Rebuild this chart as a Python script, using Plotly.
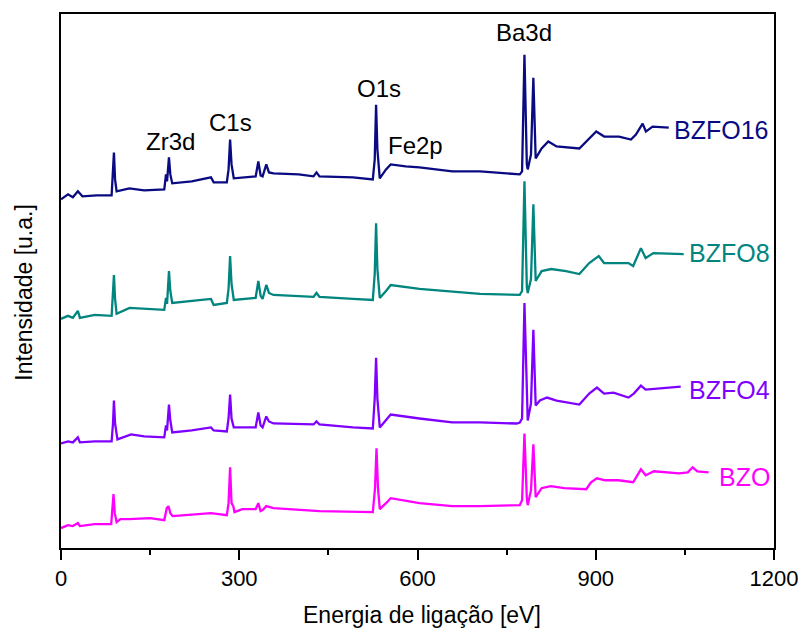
import plotly.graph_objects as go

# Binding energy (eV) and intensity (a.u., stacked offsets included)
bzfo16_e = [0, 11.7, 20, 28.4, 36, 60, 85.2, 87.5, 89.1, 91, 93.6, 115, 140, 173.8, 176.7, 178.5, 181.7, 184, 187.2,
            220, 252.4, 257, 279.1, 282, 284.6, 287, 290.8, 327.6, 332.1, 336, 339.3, 345.5, 350, 357.7, 400, 425,
            430, 435, 491.4, 524.8, 528, 530.3, 532.5, 536.5, 547, 554.9, 580, 603.3, 658.5, 705.3, 772.1, 776,
            780, 784, 785.5, 791, 795, 798.9, 808.9, 820.1, 834, 872.4, 884.1, 900.8, 914.2, 939.2, 959.3, 967.6,
            978.9, 984.4, 995.6, 1022.9]
bzfo16_i = [350, 355, 352, 358, 353, 354, 354, 380, 397, 370, 358, 361, 359, 360, 375, 368, 392, 375, 366,
            368, 372, 367, 367, 380, 410, 385, 371, 373, 388, 374, 373, 385, 377, 376, 375, 373,
            377, 373, 372, 370, 390, 445, 400, 371, 380, 385, 383, 382, 378, 378, 375, 378,
            495, 385, 380, 395, 472, 391, 401, 408, 403, 401, 408, 418, 413, 413, 410, 415,
            426, 418, 423, 422]

bzfo8_e = [0, 11.7, 20, 28.4, 31.8, 56.8, 85.2, 87.5, 89.1, 91, 93.6, 115.3, 140, 173.8, 176.7, 178.5, 181.7, 184,
           187.2, 220, 252.4, 257, 279.1, 282, 284.6, 287, 290.8, 327.6, 332.1, 336, 339.3, 345.5, 350, 357.7, 425,
           430, 435, 491.4, 524.8, 528, 530.3, 532.5, 536.5, 547, 554.9, 603.3, 650.1, 705.3, 772.1, 776, 780, 784,
           785.5, 791, 795, 798.9, 808.9, 825, 850, 872.4, 889, 905, 914, 955, 963, 976, 984, 997, 1048]
bzfo8_i = [230, 233, 231, 238, 231, 234, 233, 255, 274, 250, 235, 241, 240, 239, 251, 245, 278, 258,
           246, 248, 250, 244, 246, 260, 293, 265, 249, 251, 268, 253, 250, 264, 256, 254, 252,
           256, 252, 250, 249, 275, 326, 280, 251, 258, 264, 260, 258, 255, 254, 258, 368, 262,
           256, 270, 345, 268, 278, 280, 278, 275, 286, 293, 286, 286, 283, 301, 291, 296, 295]

bzfo4_e = [0, 11.7, 20, 28.4, 31.8, 56.8, 85.2, 87.5, 89.1, 91, 95, 118, 140, 173.8, 176.7, 178.5, 181.7, 184, 187.2,
           220, 252.4, 257, 279.1, 282, 284.6, 287, 290.8, 327.6, 332.1, 336, 339.3, 345.5, 350, 357.7, 425, 430,
           435, 491.4, 524.8, 528, 530.3, 532.5, 536.5, 547, 554.9, 603.3, 658.5, 705.3, 767, 772.1, 776, 780,
           784, 785.5, 791, 795, 798.9, 806, 818, 834, 872.4, 889, 902, 914, 930, 955, 964, 976, 984, 1043]
bzfo4_i = [105, 107, 106, 111, 106, 107, 107, 125, 148, 125, 109, 114, 112, 111, 123, 118, 144, 128, 116,
           118, 121, 118, 117, 130, 154, 130, 121, 121, 136, 123, 121, 132, 127, 125, 124, 127,
           124, 121, 120, 150, 191, 150, 121, 128, 134, 130, 126, 126, 125, 126, 130, 246,
           135, 128, 145, 219, 143, 148, 151, 148, 144, 155, 161, 155, 156, 151, 155, 163, 159, 162]

bzo_e = [0, 11.7, 20, 28.4, 31.8, 56.8, 84.5, 86.5, 88.4, 90.5, 93.6, 100, 115, 150, 173.8, 178, 181, 184, 188,
         252.4, 279.1, 282, 284.6, 287, 290, 292, 305, 327.6, 332.1, 336, 339.3, 345.5, 357.7, 435, 524.8, 528.5,
         531, 533.5, 536.5, 547, 554.9, 603.3, 658.5, 705.3, 772.1, 776, 780, 784, 785.5, 791, 795, 798.9, 808.9,
         824, 847, 884, 892, 902, 916, 938, 963, 976, 984, 998, 1040, 1055, 1063, 1071, 1090]
bzo_i = [20, 23, 22, 25, 22, 24, 24, 40, 54, 35, 26, 29, 29, 30, 28, 40, 42, 35, 32,
         35, 33, 45, 81, 45, 42, 36, 39, 39, 45, 37, 38, 42, 40, 37, 36, 60,
         100, 60, 39, 45, 50, 45, 42, 42, 43, 48, 115, 50, 43, 58, 104, 51, 60,
         62, 60, 59, 66, 70, 68, 68, 66, 79, 73, 77, 75, 76, 81, 77, 76]

series_names = ["BZFO16", "BZFO8", "BZFO4", "BZO"]
series_colors = ["#0a0a82", "#00857f", "#8000ff", "#ff00ff"]
label_x = [1029, 1054, 1053, 1104]
label_y = [420, 296, 159, 71]

peak_labels = ["Zr3d", "C1s", "O1s", "Fe2p", "Ba3d"]
peak_x = [184, 286, 535, 597, 780]
peak_y = [408, 427, 461, 404, 517]

x_ticks = [0, 300, 600, 900, 1200]

FONT = "Arial, Liberation Sans, sans-serif"

fig = go.Figure()
data = [(bzfo16_e, bzfo16_i), (bzfo8_e, bzfo8_i), (bzfo4_e, bzfo4_i), (bzo_e, bzo_i)]
for (e, i), name, col in zip(data, series_names, series_colors):
    fig.add_trace(go.Scatter(x=e, y=i, mode="lines", name=name,
                             line=dict(color=col, width=2.3), showlegend=False))

for name, col, lx, ly in zip(series_names, series_colors, label_x, label_y):
    fig.add_annotation(x=lx, y=ly, text=name, showarrow=False, xanchor="left", yanchor="middle",
                       font=dict(family=FONT, size=25, color=col), xshift=0)

for t, px, py in zip(peak_labels, peak_x, peak_y):
    fig.add_annotation(x=px, y=py, text=t, showarrow=False, xanchor="center", yanchor="middle",
                       font=dict(family=FONT, size=24, color="black"))

fig.add_annotation(xref="paper", yref="paper", x=0.507, y=-0.125, text="Energia de ligação [eV]",
                   showarrow=False, xanchor="center", yanchor="middle",
                   font=dict(family=FONT, size=23, color="black"))
fig.add_annotation(xref="paper", yref="paper", x=-0.052, y=0.478, text="Intensidade [u.a.]",
                   showarrow=False, xanchor="center", yanchor="middle", textangle=-90,
                   font=dict(family=FONT, size=23, color="black"))

fig.update_xaxes(range=[0, 1200], tickvals=x_ticks, ticktext=[str(v) for v in x_ticks],
                 ticks="outside", ticklen=10, tickwidth=1.5, tickcolor="black",
                 minor=dict(ticks="outside", ticklen=5, dtick=150, tick0=0, tickcolor="black", tickwidth=1.5),
                 showline=True, linecolor="black", linewidth=1.5, mirror=True,
                 showgrid=False, zeroline=False,
                 tickfont=dict(family=FONT, size=22, color="black"))
fig.update_yaxes(range=[0, 536], showticklabels=False, ticks="",
                 showline=True, linecolor="black", linewidth=1.5, mirror=True,
                 showgrid=False, zeroline=False)

fig.update_layout(width=810, height=632, margin=dict(l=61, r=27, t=12, b=84),
                  plot_bgcolor="white", paper_bgcolor="white")

fig.write_html("out.html")
